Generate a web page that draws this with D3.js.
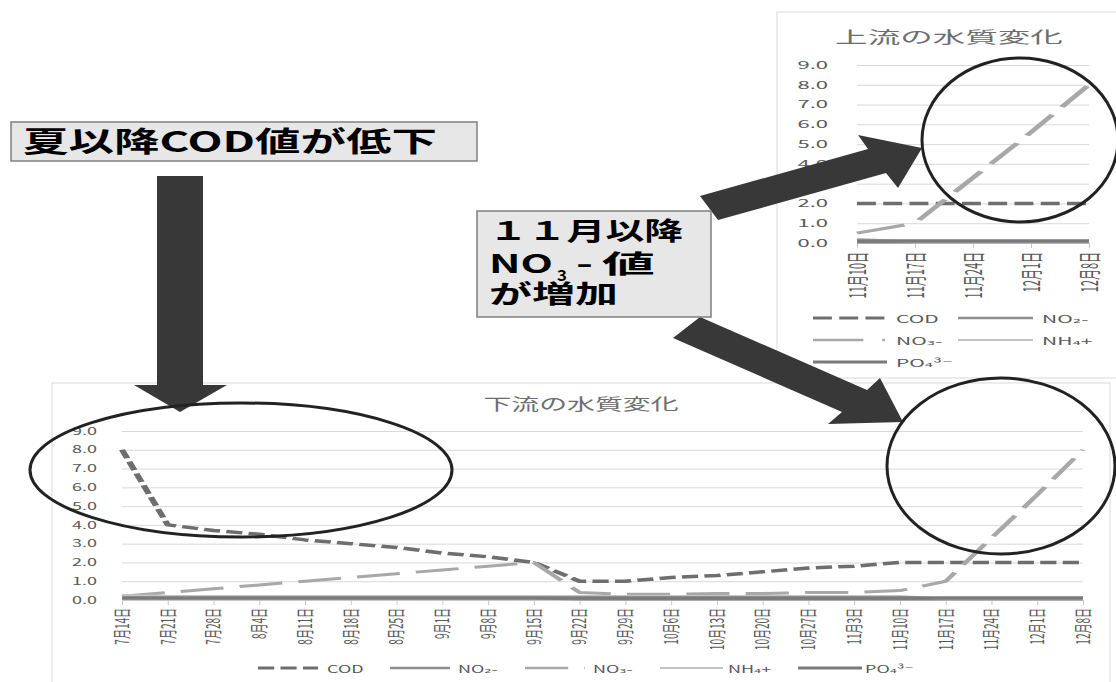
<!DOCTYPE html>
<html>
<head>
<meta charset="utf-8">
<script src="https://cdn.jsdelivr.net/npm/d3@7"></script>
<style>
  body { margin: 0; background: #fff; }
  text { font-family: "Noto Sans CJK JP", "DejaVu Sans", sans-serif; }
</style>
</head>
<body>
<svg id="fig" width="1116" height="682"></svg>
<script>
// meetdata onderloop (wekelijks)
var dates = ["7月14日", "7月21日", "7月28日", "8月4日", "8月11日", "8月18日", "8月25日", "9月1日",
    "9月8日", "9月15日", "9月22日", "9月29日", "10月6日", "10月13日", "10月20日", "10月27日",
    "11月3日", "11月10日", "11月17日", "11月24日", "12月1日", "12月8日"];
var cod = [8.0, 4.0, 3.7, 3.5, 3.2, 3.0, 2.8, 2.5, 2.3, 2.0, 1.0, 1.0, 1.2, 1.3, 1.5, 1.7, 1.8, 2.0, 2.0, 2.0, 2.0, 2.0];
var no2 = [0.1, 0.1, 0.1, 0.1, 0.1, 0.1, 0.1, 0.1, 0.1, 0.1, 0.05, 0.05, 0.05, 0.05, 0.05, 0.05, 0.05, 0.05, 0.05, 0.05, 0.05, 0.05];
var no3 = [0.2, 0.4, 0.6, 0.8, 1.0, 1.2, 1.4, 1.6, 1.8, 2.0, 0.4, 0.3, 0.3, 0.35, 0.35, 0.4, 0.4, 0.5, 1.0, 3.3, 5.6, 8.0];
var nh4 = [0.25, 0.2, 0.2, 0.2, 0.2, 0.2, 0.2, 0.2, 0.2, 0.2, 0.2, 0.2, 0.2, 0.2, 0.2, 0.2, 0.2, 0.2, 0.05, 0.05, 0.05, 0.05];
var po4 = [0.1, 0.1, 0.1, 0.1, 0.1, 0.1, 0.1, 0.1, 0.1, 0.1, 0.1, 0.1, 0.1, 0.1, 0.1, 0.1, 0.1, 0.1, 0.1, 0.1, 0.1, 0.1];

// meetdata bovenloop
var upDates = ["11月10日", "11月17日", "11月24日", "12月1日", "12月8日"];
var upCod = [2.0, 2.0, 2.0, 2.0, 2.0];
var upNo2 = [0.05, 0.05, 0.05, 0.05, 0.05];
var upNo3 = [0.5, 1.0, 3.3, 5.6, 8.0];
var upNh4 = [0.2, 0.05, 0.05, 0.05, 0.05];
var upPo4 = [0.1, 0.1, 0.1, 0.1, 0.1];

var yTicks = [0, 1, 2, 3, 4, 5, 6, 7, 8, 9];
var seriesNames = ["COD", "NO₂-", "NO₃-", "NH₄+", "PO₄³⁻"];

// lijnstijlen per reeks (dash in onuitgerekte eenheden)
var styles = {
    "COD":   { color: "#6e6e6e", width: 3.5, dash: "9,3.5" },
    "NO₂-":  { color: "#8e8e8e", width: 3, dash: null },
    "NO₃-":  { color: "#a8a8a8", width: 3, dash: "24,9" },
    "NH₄+":  { color: "#c3c3c3", width: 2.5, dash: null },
    "PO₄³⁻": { color: "#7a7a7a", width: 3.5, dash: null }
};

var svg = d3.select("#fig");

// tekst horizontaal oprekken, de scan is breed uitgetrokken
function sText(g, x, y, str, sx, size, color, anchor) {
    return g.append("text")
        .attr("transform", "translate(" + x + "," + y + ") scale(" + sx + ",1)")
        .attr("font-size", size)
        .attr("fill", color || "#595959")
        .attr("text-anchor", anchor || "start")
        .text(str);
}

function drawChart(c) {
    let g = svg.append("g");
    g.append("rect")
        .attr("x", c.frame[0]).attr("y", c.frame[1])
        .attr("width", c.frame[2] - c.frame[0]).attr("height", c.frame[3] - c.frame[1])
        .attr("fill", "#fff").attr("stroke", "#d9d9d9");

    let y = d3.scaleLinear().domain([0, 9]).range([c.y0, c.y9]);
    let x = d3.scalePoint().domain(c.dates).range([c.left, c.right]);

    // rasterlijnen
    let grid = g.append("g").attr("transform", "translate(" + c.left + ",0)")
        .call(d3.axisLeft(y).tickValues(yTicks).tickSize(-(c.right - c.left)).tickFormat(""));
    grid.select(".domain").remove();
    grid.selectAll("line").attr("stroke", "#d9d9d9");

    // y-as labels
    let ya = g.append("g").attr("transform", "translate(" + c.left + ",0)")
        .call(d3.axisLeft(y).tickValues(yTicks).tickSize(0).tickFormat(d3.format(".1f")));
    ya.select(".domain").remove();
    ya.selectAll("text")
        .attr("x", -c.yPad / c.sx)
        .attr("transform", "scale(" + c.sx + ",1)")
        .attr("font-size", c.yFont)
        .attr("fill", "#595959");

    // x-as
    let xa = g.append("g").attr("transform", "translate(0," + c.y0 + ")")
        .call(d3.axisBottom(x).tickSize(c.tick).tickSizeOuter(0));
    xa.select(".domain").attr("stroke", "#c8c8c8");
    xa.selectAll("line").attr("stroke", "#c8c8c8");
    xa.selectAll("text")
        .attr("x", 0).attr("y", 0).attr("dy", "0.35em")
        .attr("transform", "translate(0," + c.xOff + ") scale(" + c.sx + ",1) rotate(-90)")
        .attr("text-anchor", "end")
        .attr("font-size", c.xFont)
        .attr("fill", "#595959");

    // titel
    sText(g, c.title.x, c.title.y, c.title.text, c.sx, c.title.size, "#6e6e6e", "middle");

    // reeksen in uitgerekte groep
    let xs = d3.scalePoint().domain(c.dates).range([c.left / c.sx, c.right / c.sx]);
    let sg = g.append("g").attr("transform", "scale(" + c.sx + ",1)");
    let line = d3.line()
        .x(function(d, i) { return xs(c.dates[i]); })
        .y(function(d) { return y(d); });
    c.series.forEach(function(s, i) {
        let st = styles[seriesNames[i]];
        sg.append("path").datum(s)
            .attr("d", line)
            .attr("fill", "none")
            .attr("stroke", st.color)
            .attr("stroke-width", st.width)
            .attr("stroke-dasharray", st.dash)
            .attr("stroke-linejoin", "round");
    });

    // legenda
    c.legend.forEach(function(p, i) {
        let st = styles[seriesNames[i]];
        sg.append("line")
            .attr("x1", p[0] / c.sx).attr("x2", p[1] / c.sx)
            .attr("y1", p[2]).attr("y2", p[2])
            .attr("stroke", st.color)
            .attr("stroke-width", st.width - 0.5)
            .attr("stroke-dasharray", st.dash);
        sText(g, p[3], p[2] + 5, seriesNames[i], c.sx, c.legFont, "#595959");
    });
}

// bovenloop grafiek
drawChart({
    frame: [777, 12, 1130, 378],
    sx: 2.1, left: 857, right: 1089, y0: 243, y9: 65,
    yPad: 29, yFont: 10.5, xFont: 11, xOff: 9, tick: 5, legFont: 10,
    dates: upDates,
    series: [upCod, upNo2, upNo3, upNh4, upPo4],
    title: { text: "上流の水質変化", x: 949, y: 43, size: 15.5 },
    legend: [[813, 885, 318, 896], [958, 1033, 318, 1042], [813, 885, 340, 896],
             [958, 1033, 340, 1042], [813, 887, 362, 896]]
});

// onderloop grafiek
drawChart({
    frame: [52, 383, 1110, 700],
    sx: 1.8, left: 122, right: 1083, y0: 600, y9: 431,
    yPad: 25, yFont: 10, xFont: 10, xOff: 8, tick: 5, legFont: 10,
    dates: dates,
    series: [cod, no2, no3, nh4, po4],
    title: { text: "下流の水質変化", x: 581, y: 410, size: 15.5 },
    legend: [[258, 318, 668, 327], [390, 450, 668, 458], [525, 585, 668, 593],
             [660, 723, 668, 728], [798, 862, 668, 865]]
});

// annotaties: pijlen, tekstvakken en ellipsen
var ann = svg.append("g");
var arrows = [
    [[157, 176], [203, 176], [203, 385], [227, 385], [180, 412], [134, 385], [157, 385]],
    [[700, 196], [868, 149], [858, 135], [922, 148], [898, 188], [886, 173], [718, 220]],
    [[700, 317], [867, 390], [880, 378], [903, 422], [828, 424], [842, 412], [673, 338]]
];
arrows.forEach(function(p) {
    ann.append("polygon").attr("points", p.join(" ")).attr("fill", "#383838");
});

[[241, 470, 211, 67], [1001, 466, 114, 88], [1020, 140, 98, 82]].forEach(function(e) {
    ann.append("ellipse")
        .attr("cx", e[0]).attr("cy", e[1]).attr("rx", e[2]).attr("ry", e[3])
        .attr("fill", "none").attr("stroke", "#222").attr("stroke-width", 3);
});

function box(x, y, w, h) {
    ann.append("rect").attr("x", x).attr("y", y).attr("width", w).attr("height", h)
        .attr("fill", "#e7e7e7").attr("stroke", "#7f7f7f").attr("stroke-width", 1.5);
}
// vette tekstregel, opgebouwd uit stukken [tekst, x, y, grootte, lengte]
function bold(parts) {
    let t = ann.append("text").attr("font-weight", "bold").attr("fill", "#000");
    parts.forEach(function(p) {
        t.append("tspan")
            .attr("x", p[1]).attr("y", p[2])
            .attr("font-size", p[3])
            .attr("textLength", p[4]).attr("lengthAdjust", "spacingAndGlyphs")
            .text(p[0]);
    });
}

box(11, 122, 466, 39);
bold([["夏以降COD値が低下", 23, 152, 28, 414]]);

box(477, 211, 234, 106);
bold([["１１月以降", 489, 240, 25, 194]]);
bold([["NO", 489, 273, 25, 64], ["3", 557, 281, 15, 10], ["-", 576, 273, 25, 17], ["値", 602, 273, 25, 53]]);
bold([["が増加", 489, 303, 25, 129]]);
</script>
</body>
</html>
